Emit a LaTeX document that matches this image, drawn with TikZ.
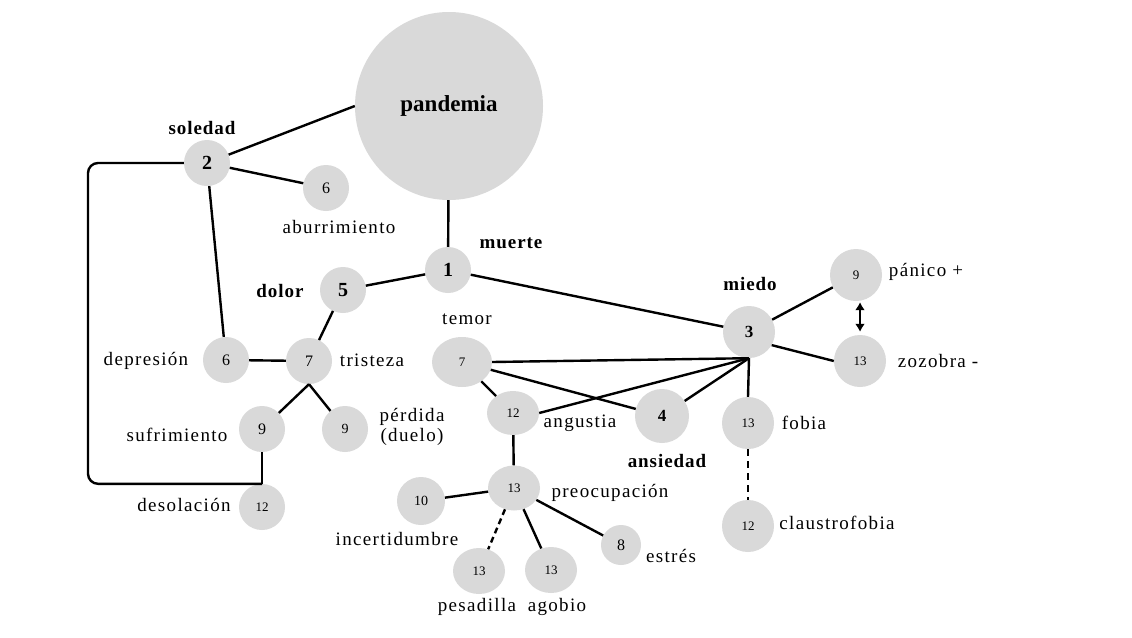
\documentclass[tikz,border=0pt]{standalone}
\usepackage{fontspec}
\setmainfont{Liberation Serif}
\newfontfamily\lblfont{Liberation Serif}[LetterSpace=7]
\newfontfamily\blblfont{Liberation Serif}[LetterSpace=5]
\usetikzlibrary{shapes.geometric,arrows.meta}
\definecolor{bubgray}{RGB}{217,217,217}
\begin{document}
\begin{tikzpicture}[x=1pt,y=-1pt,
 bub/.style={circle,fill=bubgray,inner sep=0pt,minimum size=#1},
 bubE/.style 2 args={ellipse,fill=bubgray,inner sep=0pt,minimum width=#1,minimum height=#2},
 bignum/.style={font=\fontsize{20}{22}\selectfont\bfseries},
 midnum/.style={font=\fontsize{17}{19}\selectfont\bfseries},
 num/.style={font=\fontsize{16}{18}\selectfont},
 smnum/.style={font=\fontsize{13}{15}\selectfont},
 lbl/.style={font=\lblfont\fontsize{19}{21}\selectfont,inner sep=0pt},
 blbl/.style={font=\blblfont\fontsize{19}{21}\selectfont\bfseries,inner sep=0pt},
 conn/.style={line width=2.4pt},
 dashconn/.style={line width=2.4pt,dash pattern=on 7pt off 5pt},
]
\useasboundingbox (0,0) rectangle (1132,637);
\fill[white] (0,0) rectangle (1132,637);

% bubbles
\node[bub=188,font=\fontsize{23}{25}\selectfont\bfseries] (pan) at (449,106) {pandemia};
\node[bub=46,bignum] (n2) at (207,163) {2};
\node[bub=46,num] (abu) at (326,188) {6};
\node[bub=46,bignum] (n1) at (448,270) {1};
\node[bub=46,bignum] (n5) at (343,290) {5};
\node[bub=52,midnum] (n3) at (749,332) {3};
\node[bub=52,smnum] (pnc) at (856,275) {9};
\node[bub=52,smnum] (zoz) at (860,361) {13};
\node[bub=52,smnum] (fob) at (748,423) {13};
\node[bub=52,smnum] (cla) at (748,526) {12};
\node[bubE={60}{50},smnum] (tem) at (462,362) {7};
\node[bubE={52}{44},smnum] (ang) at (513,413) {12};
\node[bub=54,midnum] (n4) at (662,416) {4};
\node[bubE={52}{45},smnum] (pre) at (514,488) {13};
\node[bub=48,font=\fontsize{14}{16}\selectfont] (n10) at (421,501) {10};
\node[bubE={52}{46},smnum] (pes) at (479,571) {13};
\node[bubE={52}{46},smnum] (ago) at (551,570) {13};
\node[bub=40,num] (est) at (621,545) {8};
\node[bub=46,num] (dep) at (226,360) {6};
\node[bub=46,num] (tri) at (309,361) {7};
\node[bub=46,num] (suf) at (262,429) {9};
\node[bub=46,font=\fontsize{14}{16}\selectfont] (per) at (345,429) {9};
\node[bub=46,smnum] (des) at (262,507) {12};

% labels
\node[blbl] (lsol) at (202,128) {soledad};
\node[lbl] (labu) at (339,227) {aburrimiento};
\node[blbl] (lmue) at (511,243) {muerte};
\node[blbl] (ldol) at (280,291) {dolor};
\node[blbl] (lmie) at (750,284) {miedo};
\node[lbl] (lpan) at (926,272) {pánico +};
\node[lbl] (lzoz) at (938,361) {zozobra -};
\node[lbl] (lfob) at (804,423) {fobia};
\node[lbl] (lcla) at (837,523) {claustrofobia};
\node[lbl] (ltem) at (467,319) {temor};
\node[lbl] (lang) at (580,423) {angustia};
\node[blbl] (lans) at (667,461) {ansiedad};
\node[lbl] (ldep) at (146,361) {depresión};
\node[lbl] (ltri) at (372,360) {tristeza};
\node[lbl] (lsuf) at (177,435) {sufrimiento};
\node[lbl,align=center] (lper) at (412,427) {pérdida\\[-1pt](duelo)};
\node[lbl] (ldes) at (184,505) {desolación};
\node[lbl] (lpre) at (610,493) {preocupación};
\node[lbl] (linc) at (397,539) {incertidumbre};
\node[lbl] (lest) at (671,556) {estrés};
\node[lbl] (lpes) at (477,607) {pesadilla};
\node[lbl] (lago) at (557,607) {agobio};

% connectors
\coordinate (hub) at (n3.south);
\coordinate (lx) at (88,300);
\draw[conn] (pan.west) -- (n2);
\draw[conn] (n2) -- (abu);
\draw[conn] (n2) -- (dep);
\draw[conn] (pan) -- (n1);
\draw[conn] (n1) -- (n5);
\draw[conn] (n1) -- (n3);
\draw[conn] (n3) -- (pnc);
\draw[conn] (n3.-30) -- (zoz.west);
\draw[line width=2.4pt,{Latex[length=8pt,width=10pt]}-{Latex[length=8pt,width=10pt]},shorten >=3pt,shorten <=1pt] (zoz.north |- pnc.south) -- (zoz.north);
\draw[conn] (tem.east) -- (hub);
\draw[conn] (tem) -- (n4);
\draw[conn] (ang.east) -- (hub);
\draw[conn] (n4) -- (hub);
\draw[conn] (tem) -- (ang);
\draw[conn] (hub) -- (fob.north);
\draw[dashconn] (fob) -- (cla);
\draw[conn] (ang) -- (pre);
\draw[conn] (pre) -- (n10);
\draw[line width=2.4pt,dash pattern=on 6pt off 4pt] (pre) -- (pes);
\draw[conn] (pre) -- (ago);
\draw[conn] (pre) -- (est);
\draw[conn] (n5) -- (tri);
\draw[conn] (dep) -- (tri);
\draw[conn] (tri.south) -- (suf);
\draw[conn] (tri.south) -- (per);
\draw[conn] (suf) -- (des);
\draw[conn,rounded corners=10pt] (n2.west) -| (lx) |- (des.north);
\end{tikzpicture}
\end{document}
